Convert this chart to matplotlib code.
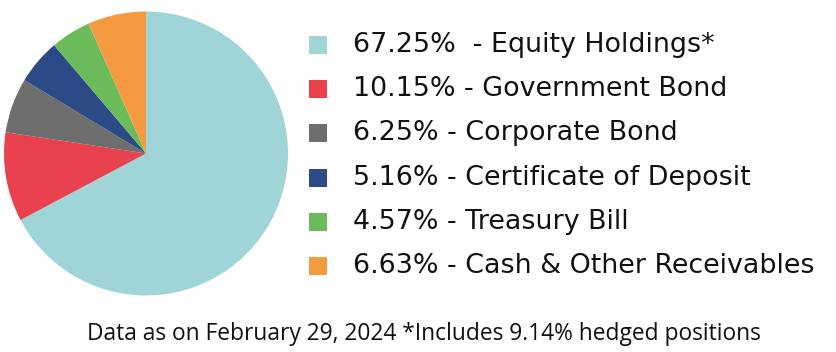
import matplotlib
matplotlib.use("Agg")
import matplotlib.pyplot as plt
from matplotlib.patches import Rectangle

categories = ["Equity Holdings*", "Government Bond", "Corporate Bond",
              "Certificate of Deposit", "Treasury Bill", "Cash & Other Receivables"]
values = [67.25, 10.15, 6.25, 5.16, 4.57, 6.63]
pct_labels = ["67.25%  - ", "10.15% - ", "6.25% - ", "5.16% - ", "4.57% - ", "6.63% - "]
colors = ["#9fd5d7", "#e8424f", "#6e6e6e", "#2c4a86", "#6cbb5a", "#f59a40"]
footer = "Data as on February 29, 2024 *Includes 9.14% hedged positions"

W, H = 836, 352
fig = plt.figure(figsize=(W / 100, H / 100), dpi=100)

cx, cy, r = 146, 153.5, 142
ax = fig.add_axes([(cx - r) / W, (H - cy - r) / H, 2 * r / W, 2 * r / H])
ax.pie(values, colors=colors, startangle=90, counterclock=False, radius=1,
       wedgeprops=dict(linewidth=0))
ax.set_xlim(-1, 1)
ax.set_ylim(-1, 1)
ax.axis("off")

renderer = fig.canvas.get_renderer()


def fit(t, target_w):
    bb = t.get_window_extent(renderer=renderer)
    t.set_fontsize(t.get_fontsize() * target_w / bb.width)


row_y0, row_dy = 45, 44.2
sq = 18
texts = []
for i, (lab, pct, col) in enumerate(zip(categories, pct_labels, colors)):
    y = row_y0 + i * row_dy
    fig.patches.append(Rectangle((309 / W, (H - y - sq / 2) / H), sq / W, sq / H,
                                 transform=fig.transFigure, facecolor=col,
                                 edgecolor="none"))
    t = fig.text(353 / W, (H - y) / H, pct + lab, fontsize=17, family="DejaVu Sans",
                 va="center", ha="left", color="#111111")
    texts.append(t)

# scale legend font so the longest line matches the reference width
bb = texts[-1].get_window_extent(renderer=renderer)
scale = 462 / bb.width
for t in texts:
    t.set_fontsize(t.get_fontsize() * scale)

ft = fig.text(424 / W, (H - 334) / H, footer, fontsize=13, family="Open Sans",
              va="center", ha="center", color="#111111")
fit(ft, 670)

fig.savefig("out.png", dpi=100)
